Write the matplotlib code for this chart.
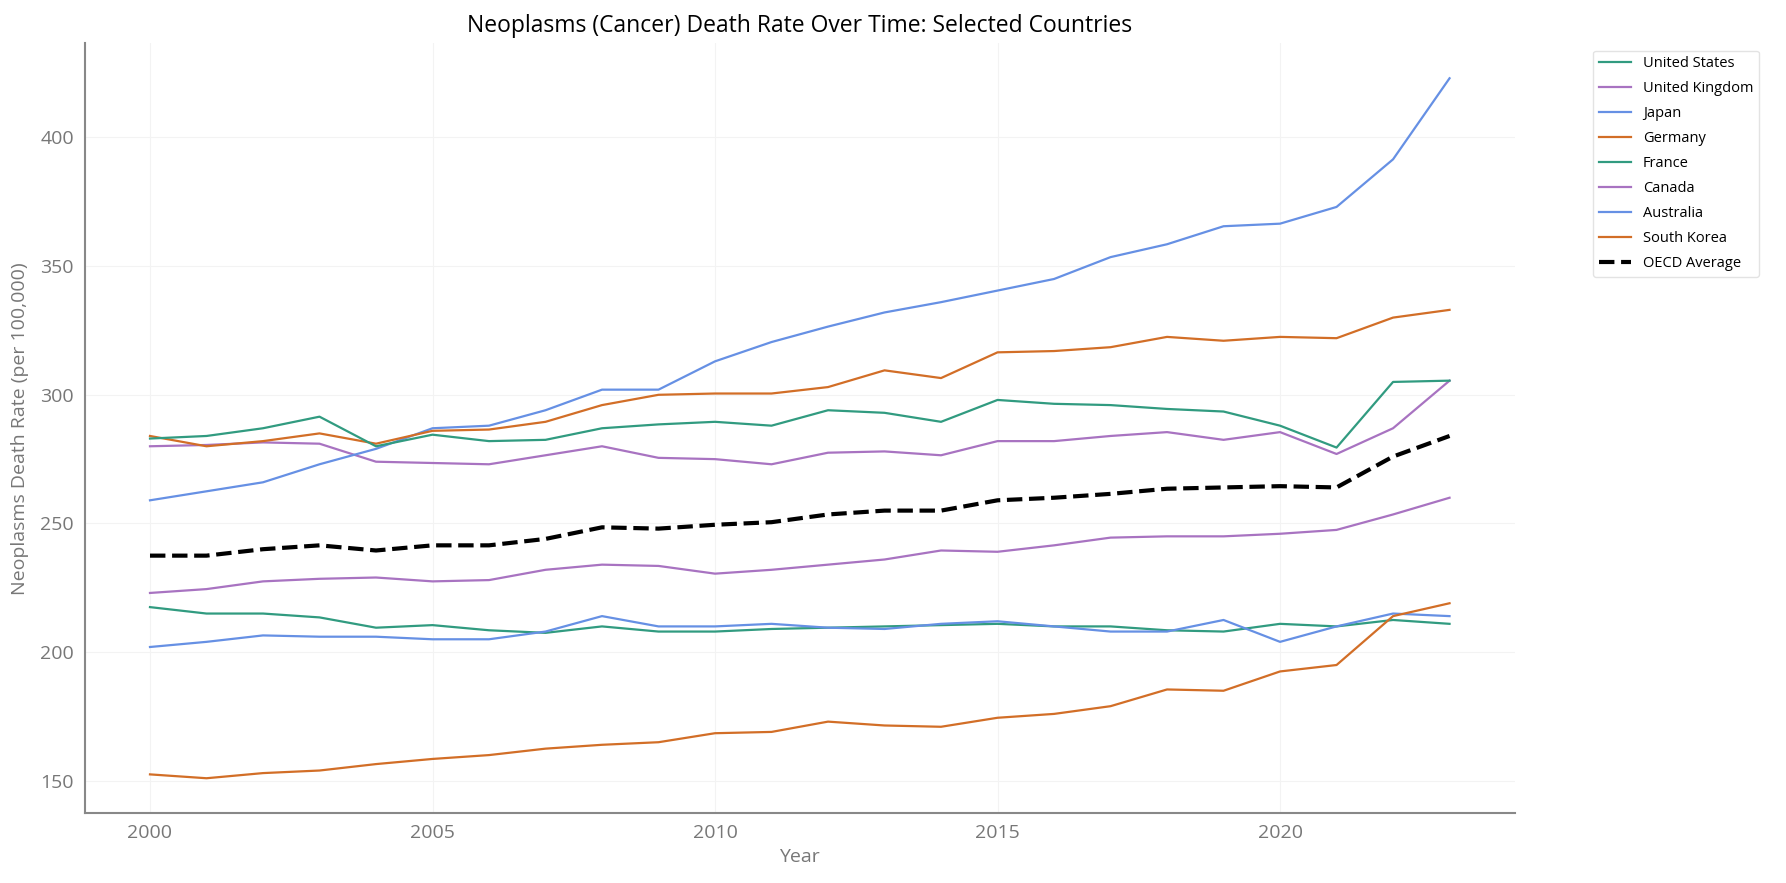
import numpy as np
import matplotlib.pyplot as plt

years = list(range(2000, 2024))

united_states = [217.5, 215, 215, 213.5, 209.5, 210.5, 208.5, 207.5, 210, 208, 208, 209,
                 209.5, 210, 210.5, 211, 210, 210, 208.5, 208, 211, 210, 212.5, 211]
united_kingdom = [280, 280.5, 281.5, 281, 274, 273.5, 273, 276.5, 280, 275.5, 275, 273,
                  277.5, 278, 276.5, 282, 282, 284, 285.5, 282.5, 285.5, 277, 287, 305.5]
japan = [259, 262.5, 266, 273, 279, 287, 288, 294, 302, 302, 313, 320.5,
         326.5, 332, 336, 340.5, 345, 353.5, 358.5, 365.5, 366.5, 373, 391.5, 423]
germany = [284, 280, 282, 285, 281, 286, 286.5, 289.5, 296, 300, 300.5, 300.5,
           303, 309.5, 306.5, 316.5, 317, 318.5, 322.5, 321, 322.5, 322, 330, 333]
france = [283, 284, 287, 291.5, 280, 284.5, 282, 282.5, 287, 288.5, 289.5, 288,
          294, 293, 289.5, 298, 296.5, 296, 294.5, 293.5, 288, 279.5, 305, 305.5]
canada = [223, 224.5, 227.5, 228.5, 229, 227.5, 228, 232, 234, 233.5, 230.5, 232,
          234, 236, 239.5, 239, 241.5, 244.5, 245, 245, 246, 247.5, 253.5, 260]
australia = [202, 204, 206.5, 206, 206, 205, 205, 208, 214, 210, 210, 211,
             209.5, 209, 211, 212, 210, 208, 208, 212.5, 204, 210, 215, 214]
south_korea = [152.5, 151, 153, 154, 156.5, 158.5, 160, 162.5, 164, 165, 168.5, 169,
               173, 171.5, 171, 174.5, 176, 179, 185.5, 185, 192.5, 195, 214, 219]
oecd_average = [237.5, 237.5, 240, 241.5, 239.5, 241.5, 241.5, 244, 248.5, 248, 249.5, 250.5,
                253.5, 255, 255, 259, 260, 261.5, 263.5, 264, 264.5, 264, 276, 284]

countries = ['United States', 'United Kingdom', 'Japan', 'Germany',
             'France', 'Canada', 'Australia', 'South Korea']
series = [united_states, united_kingdom, japan, germany,
          france, canada, australia, south_korea]
palette = ['#319B80', '#A873C1', '#6690E4', '#D26E27']

plt.rcParams['font.family'] = ['Open Sans', 'DejaVu Sans']

fig = plt.figure(figsize=(17.86, 8.83), dpi=100)
ax = fig.add_axes([0.0476, 0.079, 0.8004, 0.872])

for i, (name, vals) in enumerate(zip(countries, series)):
    ax.plot(years, vals, color=palette[i % 4], lw=1.6, label=name)
ax.plot(years, oecd_average, color='black', lw=3, ls='--', label='OECD Average')

ax.set_title('Neoplasms (Cancer) Death Rate Over Time: Selected Countries',
             fontsize=16.5, color='black', pad=8)
ax.set_xlabel('Year', fontsize=14, color='#777777', labelpad=4)
ax.set_ylabel('Neoplasms Death Rate (per 100,000)', fontsize=14, color='#777777', labelpad=8)

ax.set_xticks([2000, 2005, 2010, 2015, 2020])
ax.set_yticks([150, 200, 250, 300, 350, 400])
ax.tick_params(axis='both', length=0, labelsize=14, labelcolor='#777777', pad=8)
ax.grid(True, color='#f3f3f3', lw=0.8)
ax.set_axisbelow(True)

for side in ['top', 'right']:
    ax.spines[side].set_visible(False)
for side in ['left', 'bottom']:
    ax.spines[side].set_color('#888888')
    ax.spines[side].set_linewidth(1.5)

ax.legend(loc='upper left', bbox_to_anchor=(1.05, 1.0), fontsize=10.5,
          frameon=True, edgecolor='#dddddd', handlelength=2.2, labelspacing=0.68)

fig.savefig('out.png', dpi=100)
